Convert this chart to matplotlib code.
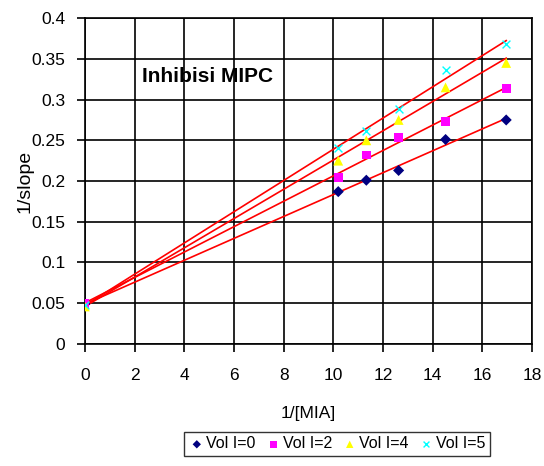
import numpy as np
import matplotlib.pyplot as plt

plt.rcParams['font.family'] = ['Liberation Sans', 'DejaVu Sans']

inv_mia = [0, 10.2, 11.33, 12.63, 14.52, 16.96]
vol0 = [0.049, 0.187, 0.201, 0.213, 0.251, 0.275]
vol2 = [0.050, 0.204, 0.232, 0.253, 0.273, 0.314]
vol4 = [0.046, 0.225, 0.250, 0.275, 0.315, 0.345]
vol5 = [0.048, 0.240, 0.262, 0.288, 0.336, 0.368]
labels = ['Vol I=0', 'Vol I=2', 'Vol I=4', 'Vol I=5']

series = [vol0, vol2, vol4, vol5]
markers = ['D', 's', '^', 'x']
colors = ['#000080', '#ff00ff', '#ffff00', '#00ffff']
sizes = [32, 40, 50, 32]

fig = plt.figure(figsize=(5.44, 4.66), dpi=100)
ax = fig.add_axes([0.156, 0.262, 0.822, 0.699])

x = np.array(inv_mia)
for ys, m, c, s, lab in zip(series, markers, colors, sizes, labels):
    # linear trendline for each series
    k, b = np.polyfit(x, ys, 1)
    xx = np.array([x.min(), x.max()])
    ax.plot(xx, k * xx + b, color='red', lw=1.2, zorder=2)
    if m == 'x':
        ax.scatter(x, ys, marker=m, color=c, s=s, linewidths=1.0, label=lab, zorder=3)
    else:
        ax.scatter(x, ys, marker=m, color=c, s=s, label=lab, zorder=3,
                   edgecolors='none')

ax.set_xlim(0, 18)
ax.set_ylim(0, 0.4)
ax.set_xticks(np.arange(0, 19, 2))
ax.set_yticks(np.arange(0, 0.41, 0.05))
ax.set_yticklabels(['0', '0.05', '0.1', '0.15', '0.2', '0.25', '0.3', '0.35', '0.4'])
ax.grid(True, color='black', lw=1.2)
ax.set_axisbelow(True)
for sp in ax.spines.values():
    sp.set_linewidth(1.2)
ax.tick_params(labelsize=12.5, direction='out', length=6, width=1.2)
ax.tick_params(axis='x', pad=11)
ax.tick_params(axis='y', pad=8)
ax.set_xlabel('1/[MIA]', fontsize=12.5)
ax.xaxis.set_label_coords(0.5, -0.19)
ax.set_ylabel('1/slope', fontsize=14)
ax.yaxis.set_label_coords(-0.115, 0.5)

ax.text(2.3, 0.328, 'Inhibisi MIPC', fontsize=15, fontweight='bold', va='center')

leg = ax.legend(loc='upper center', bbox_to_anchor=(0.564, -0.245), ncol=4,
                fontsize=11.5, frameon=True, fancybox=False, edgecolor='black',
                handletextpad=0.1, columnspacing=0.6, handlelength=1.0,
                borderpad=0.3, markerscale=0.75)
leg.get_frame().set_linewidth(1.0)

fig.savefig('out.png', dpi=100)
